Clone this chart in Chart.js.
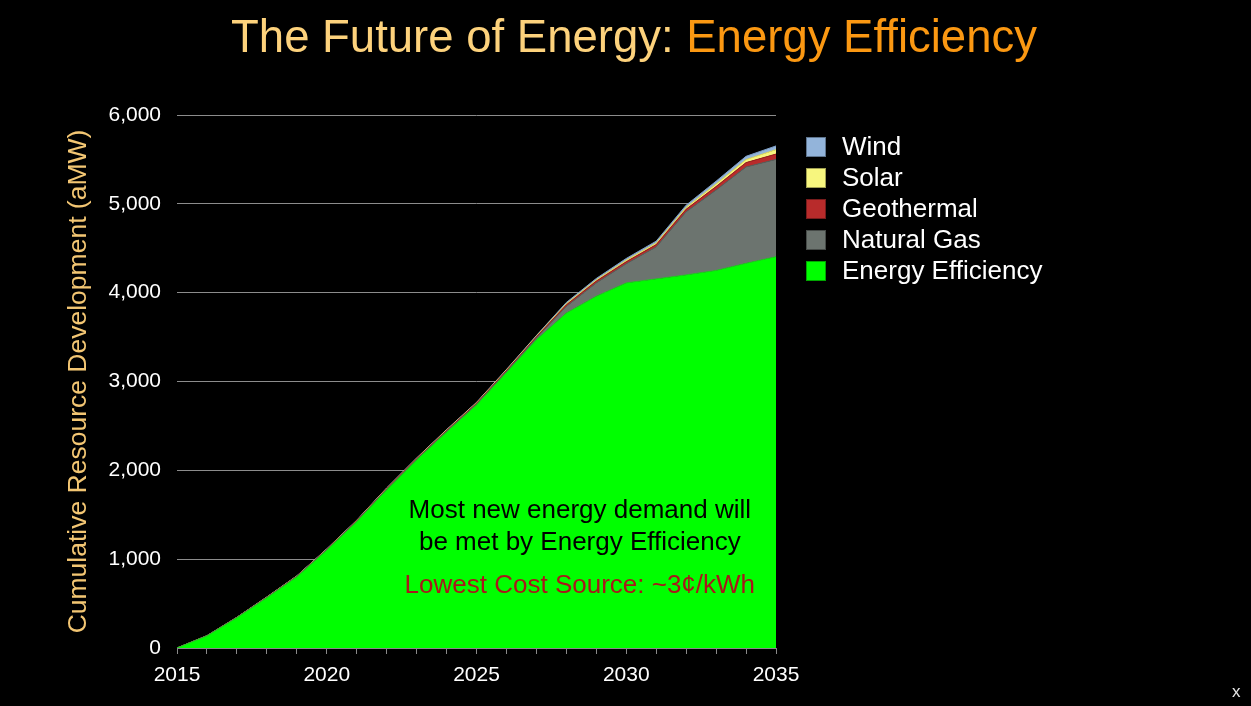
<!DOCTYPE html>
<html>
<head>
<meta charset="utf-8">
<script src="https://cdn.jsdelivr.net/npm/chart.js@4.4.1/dist/chart.umd.min.js"></script>
<style>
  html, body { margin: 0; padding: 0; background: #000; }
  #wrap { position: relative; width: 1251px; height: 706px; background: #000; overflow: hidden; }
  #title { position: absolute; left: 0; top: 14px; width: 1268px; text-align: center;
           font-family: "Liberation Sans", Arial, Helvetica, sans-serif; font-size: 45.5px; line-height: 1; white-space: nowrap; }
  #title .a { color: #fdd27c; }
  #title .b { color: #fb9812; }
  #xmark { position: absolute; left: 1232px; top: 683px; color: #e6e6e6; font-family: "Liberation Sans", Arial, sans-serif; font-size: 17px; line-height: 1; }
  #chartBox { position: absolute; left: 0; top: 0; width: 1251px; height: 706px; }
</style>
</head>
<body>
<div id="wrap">
  <div id="chartBox"><canvas id="c"></canvas></div>
  <div id="title"><span class="a">The Future of Energy: </span><span class="b">Energy Efficiency</span></div>
  <div id="xmark">x</div>
</div>
<script>
// ---- data ----
const years = [2015,2016,2017,2018,2019,2020,2021,2022,2023,2024,2025,2026,2027,2028,2029,2030,2031,2032,2033,2034,2035];
const energyEfficiency = [0,135,340,565,800,1100,1420,1780,2115,2430,2735,3100,3470,3770,3960,4110,4155,4200,4250,4330,4405];
const naturalGas = [0,1,2,3,4,5,6,7,8,9,10,12,20,75,150,215,360,710,905,1085,1095];
const geothermal = [0,1,2,3,4,5,6,7,8,9,10,11,13,18,20,24,26,30,40,49,60];
const solar = [0,1,1,2,2,3,3,4,4,5,5,6,7,12,13,16,17,20,28,34,50];
const wind = [0,1,1,2,2,3,3,4,4,5,5,6,7,15,17,20,22,25,32,37,42];
const yTicks = [0,1000,2000,3000,4000,5000,6000];
const xLabelYears = [2015,2020,2025,2030,2035];
const seriesNames = ['Energy Efficiency','Natural Gas','Geothermal','Solar','Wind'];
const seriesFill = ['#00ff00','#6c746f','#b82b2b','#f7f67e','#93b4da'];
const seriesLine = ['#22cc22','#5a605c','#9a2020','#e0dc60','#7f9fc6'];
const annotationLines = ['Most new energy demand will','be met by Energy Efficiency','Lowest Cost Source: ~3\u00a2/kWh'];

const seriesValues = [energyEfficiency, naturalGas, geothermal, solar, wind];
const FONT = '"Liberation Sans", Arial, Helvetica, sans-serif';

const datasets = seriesValues.map((vals, i) => ({
  label: seriesNames[i],
  data: years.map((y, k) => ({x: y, y: vals[k]})),
  backgroundColor: seriesFill[i],
  borderColor: seriesLine[i],
  borderWidth: 1,
  fill: i === 0 ? 'origin' : '-1',
  pointRadius: 0,
  tension: 0
}));

const overlayPlugin = {
  id: 'overlay',
  afterDatasetsDraw(chart) {
    const {ctx, scales: {x, y}} = chart;
    ctx.save();
    ctx.textAlign = 'center';
    ctx.textBaseline = 'middle';
    ctx.font = '26px ' + FONT;
    const cx = x.getPixelForValue(2028.45);
    ctx.fillStyle = '#000000';
    ctx.fillText(annotationLines[0], cx, y.getPixelForValue(1545));
    ctx.fillText(annotationLines[1], cx, y.getPixelForValue(1185));
    ctx.fillStyle = '#a8181b';
    ctx.fillText(annotationLines[2], cx, y.getPixelForValue(705));
    ctx.restore();
  },
  afterDraw(chart) {
    const {ctx, chartArea} = chart;
    ctx.save();
    ctx.font = '26px ' + FONT;
    ctx.textAlign = 'left';
    ctx.textBaseline = 'middle';
    const boxLeft = chartArea.right + 30;
    const ds = chart.data.datasets.slice().reverse();
    ds.forEach((d, i) => {
      const cy = 147 + i * 31;
      ctx.fillStyle = d.backgroundColor;
      ctx.fillRect(boxLeft, cy - 10, 20, 20);
      ctx.strokeStyle = 'rgba(0,0,0,0.35)';
      ctx.lineWidth = 1;
      ctx.strokeRect(boxLeft + 0.5, cy - 9.5, 19, 19);
      ctx.fillStyle = '#ffffff';
      ctx.fillText(d.label, boxLeft + 36, cy + 1);
    });
    ctx.restore();
  }
};

new Chart(document.getElementById('c'), {
  type: 'line',
  data: { datasets },
  options: {
    responsive: true,
    maintainAspectRatio: false,
    animation: false,
    layout: { padding: { left: 60, top: 115, right: 475, bottom: 0 } },
    plugins: { legend: { display: false }, tooltip: { enabled: false } },
    scales: {
      x: {
        type: 'linear',
        min: 2015, max: 2035,
        afterFit(s) { s.height = 58; },
        afterBuildTicks(s) { s.ticks = years.map(v => ({value: v})); },
        ticks: {
          autoSkip: false,
          maxRotation: 0,
          color: '#ffffff',
          font: { family: FONT, size: 21 },
          padding: 9,
          callback: (v) => xLabelYears.includes(v) ? String(v) : ''
        },
        grid: { drawOnChartArea: false, drawTicks: true, tickLength: 6, color: '#8a8a8a' },
        border: { display: true, color: '#8a8a8a', width: 1 }
      },
      y: {
        stacked: true,
        min: 0, max: 6000,
        afterFit(s) { s.width = 117; },
        afterBuildTicks(s) { s.ticks = yTicks.map(v => ({value: v})); },
        ticks: {
          color: '#ffffff',
          font: { family: FONT, size: 21 },
          padding: 16,
          callback: (v) => Number(v).toLocaleString('en-US')
        },
        grid: { drawTicks: false, color: '#8c8c8c', lineWidth: 1 },
        border: { display: false },
        title: {
          display: true,
          text: 'Cumulative Resource Development (aMW)',
          color: '#f3c673',
          font: { family: FONT, size: 26.5 },
          padding: { top: 3, bottom: 0 }
        }
      }
    }
  },
  plugins: [overlayPlugin]
});
</script>
</body>
</html>
